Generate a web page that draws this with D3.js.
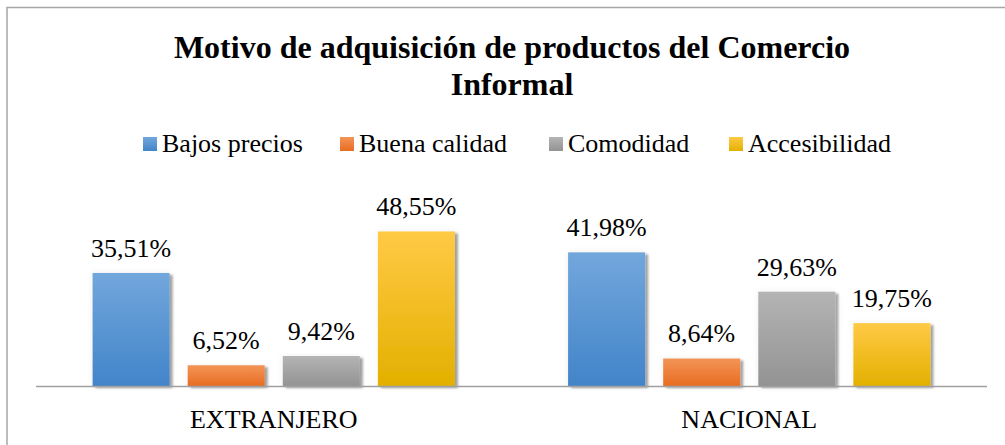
<!DOCTYPE html>
<html lang="es">
<head>
  <meta charset="utf-8">
  <title>Motivo de adquisición</title>
  <script src="https://cdnjs.cloudflare.com/ajax/libs/d3/7.8.5/d3.min.js"></script>
  <style>
    html, body { margin: 0; padding: 0; background: #fff; }
    svg { display: block; font-family: "Liberation Serif", "Times New Roman", serif; }
  </style>
</head>
<body>
<svg id="chart" width="1005" height="445"></svg>
<script>
  // data
  var categories = ['EXTRANJERO', 'NACIONAL']
  var series = ['Bajos precios', 'Buena calidad', 'Comodidad', 'Accesibilidad']
  var values = {
    'Bajos precios': [35.51, 41.98],
    'Buena calidad': [6.52, 8.64],
    'Comodidad': [9.42, 29.63],
    'Accesibilidad': [48.55, 19.75]
  }
  var labels = {
    'Bajos precios': ['35,51%', '41,98%'],
    'Buena calidad': ['6,52%', '8,64%'],
    'Comodidad': ['9,42%', '29,63%'],
    'Accesibilidad': ['48,55%', '19,75%']
  }
  // top / bottom gradient colors per series
  var colors = [
    ['#72a7dc', '#4284c9'],
    ['#f39457', '#e86d22'],
    ['#b4b4b4', '#939393'],
    ['#ffca45', '#e3b000']
  ]

  var svg = d3.select('#chart')
  var defs = svg.append('defs')

  series.forEach(function(s, i) {
    var g = defs.append('linearGradient').attr('id', 'grad' + i)
      .attr('x1', 0).attr('y1', 0).attr('x2', 0).attr('y2', 1)
    g.append('stop').attr('offset', '0%').attr('stop-color', colors[i][0])
    g.append('stop').attr('offset', '100%').attr('stop-color', colors[i][1])
  })

  var f = defs.append('filter').attr('id', 'shadow')
    .attr('x', '-20%').attr('y', '-10%').attr('width', '150%').attr('height', '130%')
  f.append('feDropShadow').attr('dx', 0).attr('dy', 0).attr('stdDeviation', 3)
    .attr('flood-color', '#000').attr('flood-opacity', 0.07)
  f.append('feDropShadow').attr('dx', 3).attr('dy', 2).attr('stdDeviation', 1.2)
    .attr('flood-color', '#000').attr('flood-opacity', 0.35)

  // frame
  svg.append('rect')
    .attr('x', 7).attr('y', 7.5).attr('width', 1020).attr('height', 460)
    .attr('fill', 'none').attr('stroke', '#a6a6a6').attr('stroke-width', 1.5)

  // title
  var title = svg.append('text')
    .attr('text-anchor', 'middle')
    .attr('font-weight', 'bold')
    .attr('font-size', 32)
    .attr('fill', '#000')
  title.append('tspan').attr('x', 512).attr('y', 58).text('Motivo de adquisición de productos del Comercio')
  title.append('tspan').attr('x', 512).attr('y', 95).text('Informal')

  // legend
  var legendX = [143, 340, 549, 729]
  var legend = svg.selectAll('.legend').data(series).enter().append('g')
    .attr('transform', function(d, i) { return 'translate(' + legendX[i] + ',137)' })
  legend.append('rect').attr('width', 14).attr('height', 14)
    .attr('fill', function(d, i) { return 'url(#grad' + i + ')' })
  legend.append('text').attr('x', 19).attr('y', 15)
    .attr('font-size', 26).attr('fill', '#000')
    .text(function(d) { return d })

  // scales
  var x0 = d3.scaleBand().domain(categories).range([36, 987])
    .paddingInner(0.2).paddingOuter(0.1)
  var x1 = d3.scaleBand().domain(series).range([0, x0.bandwidth()])
    .paddingInner(0.19).paddingOuter(0.095)
  var y = d3.scaleLinear().domain([0, 60]).range([386, 195])

  // bars
  var groups = svg.selectAll('.cat').data(categories).enter().append('g')
    .attr('transform', function(d) { return 'translate(' + x0(d) + ',0)' })

  groups.each(function(cat, ci) {
    var g = d3.select(this)
    series.forEach(function(s, si) {
      var v = values[s][ci]
      g.append('rect')
        .attr('x', x1(s)).attr('y', y(v))
        .attr('width', x1.bandwidth()).attr('height', y(0) - y(v))
        .attr('fill', 'url(#grad' + si + ')')
        .attr('filter', 'url(#shadow)')
      g.append('text')
        .attr('x', x1(s) + x1.bandwidth() / 2).attr('y', y(v) - 16)
        .attr('text-anchor', 'middle').attr('font-size', 26).attr('fill', '#000')
        .text(labels[s][ci])
    })
  })

  // axis line
  svg.append('line')
    .attr('x1', 36).attr('x2', 987).attr('y1', y(0) + 0.5).attr('y2', y(0) + 0.5)
    .attr('stroke', '#a0a0a0').attr('stroke-width', 1.5)

  // category labels
  svg.selectAll('.catlabel').data(categories).enter().append('text')
    .attr('x', function(d) { return x0(d) + x0.bandwidth() / 2 })
    .attr('y', 428)
    .attr('text-anchor', 'middle').attr('font-size', 26).attr('fill', '#000')
    .text(function(d) { return d })
</script>
</body>
</html>
